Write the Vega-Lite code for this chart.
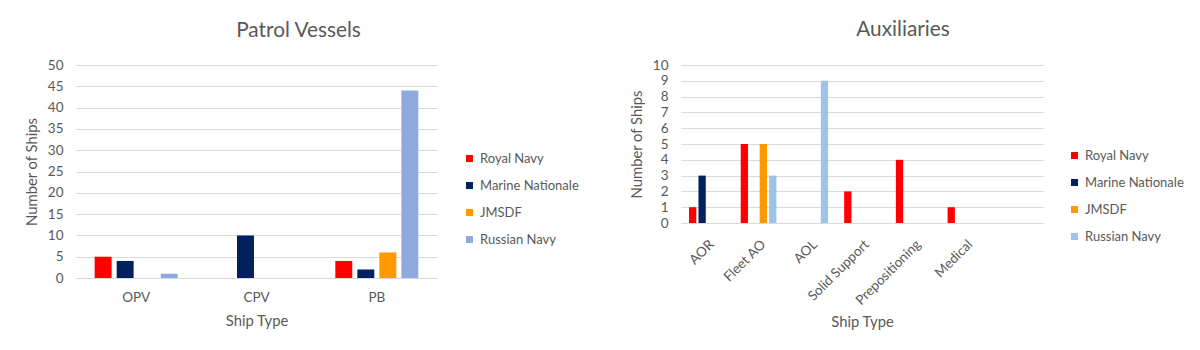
{
  "$schema": "https://vega.github.io/schema/vega-lite/v6.json",
  "background": "white",
  "padding": {"left": 24, "top": 19, "right": 0, "bottom": 0},
  "spacing": 50,
  "config": {
    "font": "Lato",
    "view": {"stroke": null},
    "axis": {
      "labelColor": "#595959",
      "titleColor": "#595959",
      "labelFontSize": 13.5,
      "titleFontSize": 14.8,
      "titleFontWeight": "normal",
      "ticks": false,
      "gridColor": "#d9d9d9",
      "domainColor": "#d9d9d9"
    },
    "legend": {
      "labelColor": "#595959",
      "labelFontSize": 13,
      "symbolType": "square",
      "symbolSize": 49,
      "symbolStrokeWidth": 0,
      "rowPadding": 13,
      "labelOffset": 4
    },
    "title": {"color": "#595959", "fontWeight": "normal", "fontSize": 20.8}
  },
  "datasets": {
    "patrol": [
      {"type": "OPV", "navy": "Royal Navy", "ships": 5},
      {"type": "OPV", "navy": "Marine Nationale", "ships": 4},
      {"type": "OPV", "navy": "Russian Navy", "ships": 1},
      {"type": "CPV", "navy": "Marine Nationale", "ships": 10},
      {"type": "PB", "navy": "Royal Navy", "ships": 4},
      {"type": "PB", "navy": "Marine Nationale", "ships": 2},
      {"type": "PB", "navy": "JMSDF", "ships": 6},
      {"type": "PB", "navy": "Russian Navy", "ships": 44}
    ],
    "aux": [
      {"type": "AOR", "navy": "Royal Navy", "ships": 1},
      {"type": "AOR", "navy": "Marine Nationale", "ships": 3},
      {"type": "Fleet AO", "navy": "Royal Navy", "ships": 5},
      {"type": "Fleet AO", "navy": "JMSDF", "ships": 5},
      {"type": "Fleet AO", "navy": "Russian Navy", "ships": 3},
      {"type": "AOL", "navy": "Russian Navy", "ships": 9},
      {"type": "Solid Support", "navy": "Royal Navy", "ships": 2},
      {"type": "Prepositioning", "navy": "Royal Navy", "ships": 4},
      {"type": "Medical", "navy": "Royal Navy", "ships": 1}
    ]
  },
  "hconcat": [
    {
      "width": 361,
      "height": 213,
      "data": {"name": "patrol"},
      "title": {"text": "Patrol Vessels", "dx": 42, "offset": 16},
      "mark": {"type": "bar"},
      "encoding": {
        "x": {
          "field": "type", "type": "nominal",
          "scale": {"domain": ["OPV", "CPV", "PB"], "paddingInner": 0.31, "paddingOuter": 0.155},
          "axis": {"title": "Ship Type", "labelAngle": 0, "labelPadding": 12, "titlePadding": 10}
        },
        "xOffset": {
          "field": "navy", "type": "nominal",
          "scale": {"domain": ["Royal Navy", "Marine Nationale", "JMSDF", "Russian Navy"], "paddingInner": 0.23, "paddingOuter": 0}
        },
        "y": {
          "field": "ships", "type": "quantitative",
          "scale": {"domain": [0, 50]},
          "axis": {"title": "Number of Ships", "values": [0, 5, 10, 15, 20, 25, 30, 35, 40, 45, 50], "domain": false, "labelPadding": 13, "titlePadding": 8}
        },
        "color": {
          "field": "navy", "type": "nominal",
          "scale": {"domain": ["Royal Navy", "Marine Nationale", "JMSDF", "Russian Navy"], "range": ["#ff0000", "#002060", "#ff9900", "#8faadc"]},
          "legend": {"title": null, "orient": "none", "legendX": 387, "legendY": 87}
        }
      }
    },
    {
      "width": 362,
      "height": 158,
      "data": {"name": "aux"},
      "title": {"text": "Auxiliaries", "dx": 41, "offset": 17},
      "mark": {"type": "bar"},
      "encoding": {
        "x": {
          "field": "type", "type": "nominal",
          "scale": {"domain": ["AOR", "Fleet AO", "AOL", "Solid Support", "Prepositioning", "Medical", ""], "paddingInner": 0.31, "paddingOuter": 0.155},
          "axis": {"title": "Ship Type", "labelAngle": -45, "labelPadding": 14, "titlePadding": 8}
        },
        "xOffset": {
          "field": "navy", "type": "nominal",
          "scale": {"domain": ["Royal Navy", "Marine Nationale", "JMSDF", "Russian Navy"], "paddingInner": 0.23, "paddingOuter": 0}
        },
        "y": {
          "field": "ships", "type": "quantitative",
          "scale": {"domain": [0, 10]},
          "axis": {"title": "Number of Ships", "values": [0, 1, 2, 3, 4, 5, 6, 7, 8, 9, 10], "domain": false, "labelPadding": 13, "titlePadding": 8}
        },
        "color": {
          "field": "navy", "type": "nominal",
          "scale": {"domain": ["Royal Navy", "Marine Nationale", "JMSDF", "Russian Navy"], "range": ["#ff0000", "#002060", "#ff9900", "#9dc3e6"]},
          "legend": {"title": null, "orient": "none", "legendX": 387, "legendY": 84}
        }
      }
    }
  ],
  "resolve": {"scale": {"color": "independent", "xOffset": "independent", "x": "independent", "y": "independent"}}
}
